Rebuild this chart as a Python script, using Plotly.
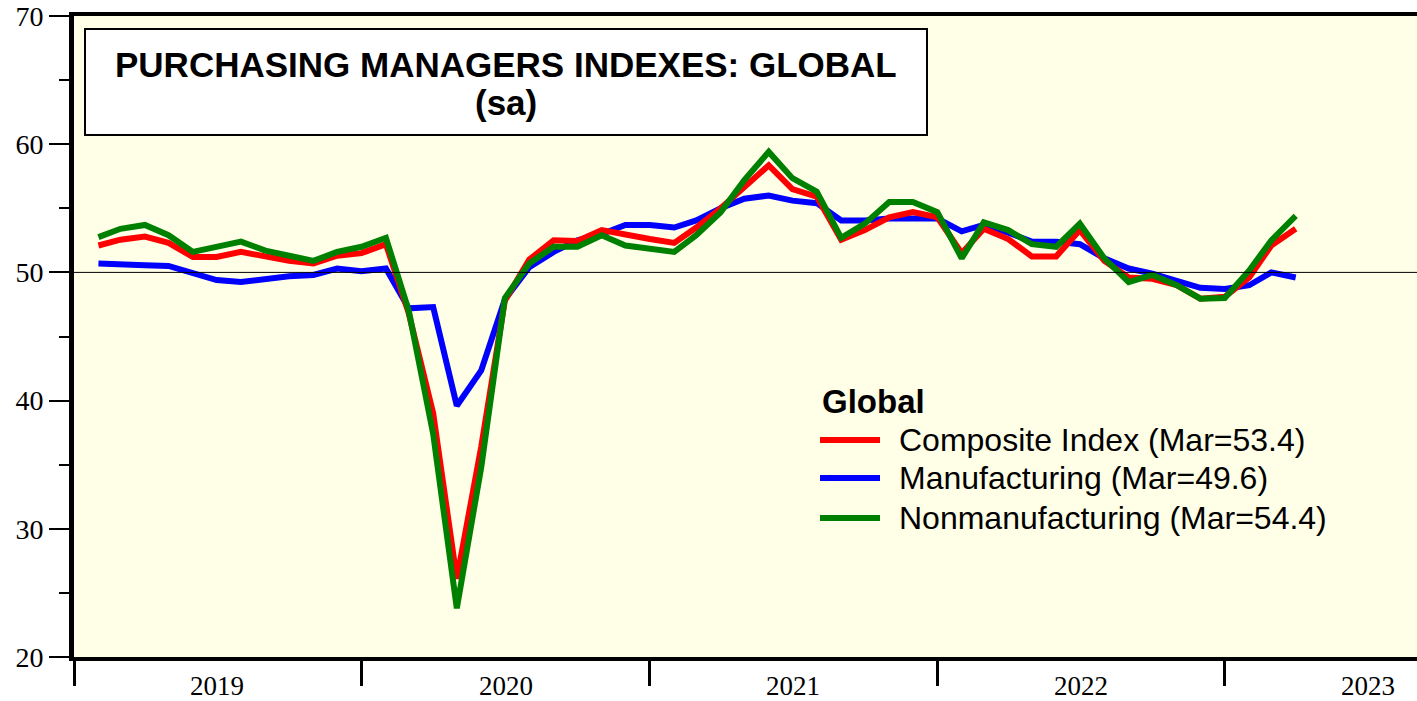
import pandas as pd
import plotly.graph_objects as go

# ---------------- data (monthly, Jan 2019 .. Mar 2023) ----------------
start_month = "2019-01"
n_months = 51

composite = [
    52.1, 52.55, 52.8, 52.3, 51.2, 51.2, 51.6, 51.2, 50.9, 50.7, 51.3, 51.5,
    52.2, 46.8, 39.0, 26.1, 36.4, 47.8, 51.0, 52.5, 52.45, 53.3, 52.9, 52.6,
    52.3, 53.5, 55.0, 56.65, 58.35, 56.5, 55.9, 52.55, 53.3, 54.3, 54.7, 54.3,
    51.5, 53.4, 52.6, 51.25, 51.25, 53.3, 50.9, 49.6, 49.5, 49.0, 47.95, 48.1,
    49.6, 52.1, 53.4,
]
manufacturing = [
    50.7, 50.6, 50.55, 50.5, 49.9, 49.4, 49.25, 49.5, 49.7, 49.8, 50.3, 50.1,
    50.3, 47.2, 47.3, 39.6, 42.35, 47.9, 50.4, 51.6, 52.5, 53.0, 53.7, 53.7,
    53.5, 54.05, 55.0, 55.75, 56.0, 55.6, 55.4, 54.05, 54.05, 54.2, 54.2, 54.2,
    53.2, 53.7, 53.1, 52.4, 52.4, 52.2, 51.1, 50.3, 49.9, 49.4, 48.8, 48.7,
    49.0, 50.0, 49.6,
]
nonmanufacturing = [
    52.75, 53.4, 53.7, 52.9, 51.6, 52.0, 52.4, 51.7, 51.3, 50.9, 51.6, 52.0,
    52.7, 47.0, 37.4, 23.8, 34.8, 48.0, 50.7, 52.0, 52.0, 52.9, 52.1, 51.8,
    51.6, 52.9, 54.7, 57.2, 59.4, 57.35, 56.3, 52.7, 53.8, 55.5, 55.5, 54.7,
    51.1, 53.9, 53.3, 52.2, 52.0, 53.8, 51.1, 49.25, 49.8, 49.0, 47.95, 48.0,
    50.15, 52.5, 54.4,
]
series_names = ["Composite Index", "Manufacturing", "Nonmanufacturing"]
series_colors = ["#FF0000", "#0000FF", "#008000"]
year_labels = ["2019", "2020", "2021", "2022", "2023"]
y_ticks = [20, 30, 40, 50, 60, 70]

# ---------------- geometry (body margin removed via post_script) ----------------
W, H = 1417, 701
L, R, T, B = 74, 0, 16, 44
PW, PH = W - L - R, H - T - B


def px_x(px):  # page pixel -> paper x
    return (px - L) / PW


def px_y(py):  # page pixel -> paper y
    return (H - B - py) / PH


months = pd.period_range(start_month, periods=n_months, freq="M")
x_dates = months.to_timestamp(how="end")

fig = go.Figure()
data = {"Composite Index": composite, "Manufacturing": manufacturing,
        "Nonmanufacturing": nonmanufacturing}
draw_order = ["Manufacturing", "Composite Index", "Nonmanufacturing"]
for name in draw_order:
    c = series_colors[series_names.index(name)]
    fig.add_trace(go.Scatter(x=x_dates, y=data[name], mode="lines", name=name,
                             line=dict(color=c, width=6), showlegend=False))

x_end = pd.Timestamp("2019-01-01") + pd.Timedelta(days=round(PW / 287.7 * 365.25))

fig.update_layout(
    width=W, height=H,
    margin=dict(l=L, r=R, t=T, b=B),
    paper_bgcolor="white",
    plot_bgcolor="#FFFEE6",
    font=dict(family="Liberation Serif", color="black"),
    xaxis=dict(
        type="date", range=["2019-01-01", x_end],
        showgrid=False, zeroline=False,
        showline=True, linecolor="black", linewidth=4, mirror=True,
        ticks="outside", ticklen=25, tickwidth=3, tickcolor="black",
        tick0="2019-01-01", dtick="M12", showticklabels=False,
    ),
    yaxis=dict(
        range=[20, 70], showgrid=False, zeroline=False,
        showline=True, linecolor="black", linewidth=5,
        ticks="outside", ticklen=20, tickwidth=1.5, tickcolor="black",
        tickvals=y_ticks, tickfont=dict(family="Liberation Serif", size=28),
        ticklabeloverflow="allow",
        minor=dict(dtick=5, tick0=20, ticks="outside", ticklen=10, tickwidth=1.5,
                   tickcolor="black", showgrid=False),
    ),
)

# year labels centred on each year
for yl in year_labels:
    mid = pd.Timestamp(f"{yl}-07-02")
    fig.add_annotation(x=mid, y=0, xref="x", yref="paper", text=yl,
                       showarrow=False, yanchor="middle", yshift=-29,
                       font=dict(family="Liberation Serif", size=27))

# 50 reference line
fig.add_shape(type="line", xref="paper", yref="y", x0=0, x1=1, y0=50, y1=50,
              line=dict(color="black", width=1))

# title box
fig.add_shape(type="rect", xref="paper", yref="paper",
              x0=px_x(85), x1=px_x(927), y0=px_y(135), y1=px_y(29),
              fillcolor="white", line=dict(color="black", width=2))
fig.add_annotation(x=px_x(506), y=px_y(65), xref="paper", yref="paper",
                   text="<b>PURCHASING MANAGERS INDEXES: GLOBAL</b>", showarrow=False,
                   xanchor="center", yanchor="middle",
                   font=dict(family="Liberation Sans", size=35, color="black"))
fig.add_annotation(x=px_x(506), y=px_y(102), xref="paper", yref="paper",
                   text="<b>(sa)</b>", showarrow=False,
                   xanchor="center", yanchor="middle",
                   font=dict(family="Liberation Sans", size=35, color="black"))

# custom legend
fig.add_annotation(x=px_x(820), y=px_y(402), xref="paper", yref="paper",
                   text="<b>Global</b>", showarrow=False, xanchor="left", yanchor="middle",
                   font=dict(family="Liberation Sans", size=33, color="black"))
leg_y = [440, 478, 518]
for name, c, yy in zip(series_names, series_colors, leg_y):
    last = data[name][-1]
    fig.add_shape(type="line", xref="paper", yref="paper",
                  x0=px_x(820), x1=px_x(880), y0=px_y(yy), y1=px_y(yy),
                  line=dict(color=c, width=6))
    fig.add_annotation(x=px_x(897), y=px_y(yy), xref="paper", yref="paper",
                       text=f"{name} (Mar={last:.1f})", showarrow=False,
                       xanchor="left", yanchor="middle",
                       font=dict(family="Liberation Sans", size=32, color="black"))

fig.write_html("out.html",
               config={"displayModeBar": False},
               post_script="document.body.style.margin='0';document.body.style.overflow='hidden';")
